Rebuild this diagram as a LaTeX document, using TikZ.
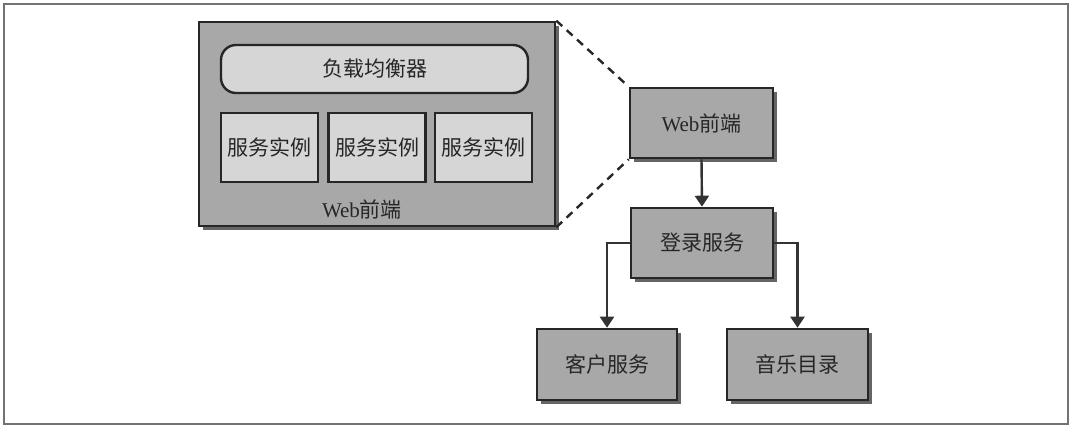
\documentclass[tikz,border=0pt]{standalone}
\usepackage{fontspec}
\setmainfont{Liberation Serif}
\newfontfamily\cjk{Noto Sans CJK SC}
\usetikzlibrary{arrows.meta,shadows}
\definecolor{boxgray}{HTML}{A8A8A8}
\definecolor{lightgray2}{HTML}{D6D6D6}
\definecolor{shadowgray}{HTML}{4A4A4A}
\tikzset{
  box/.style={draw=black!85, line width=2.6pt, fill=boxgray, inner sep=0pt,
    drop shadow={shadow xshift=4pt, shadow yshift=-4pt, fill=shadowgray, opacity=0.85}},
  inner/.style={draw=black!85, line width=2.4pt, fill=lightgray2, inner sep=0pt},
  lbl/.style={font=\fontsize{21}{24}\selectfont, text=black!85},
  conn/.style={draw=black!80, line width=2.4pt, -{Triangle[length=11pt,width=14pt]}},
  dashline/.style={draw=black!85, line width=2.4pt, dash pattern=on 8pt off 6pt}
}
\begin{document}
\begin{tikzpicture}[x=1pt,y=-1pt]
\useasboundingbox (0,0) rectangle (1073,427);
\draw[black!55, line width=1.5pt] (4,4) rectangle (1068,424);
% big web frontend box
\node[box, minimum width=356pt, minimum height=204pt] (big) at (377,124) {};
\node[inner, rounded corners=15pt, minimum width=307pt, minimum height=48pt] (lb) at (374.5,69) {};
\node[lbl] at (lb) {\cjk 负载均衡器};
\node[inner, minimum width=97pt, minimum height=69pt] (s1) at (269.5,147.5) {};
\node[inner, minimum width=97pt, minimum height=69pt] (s2) at (377,147.5) {};
\node[inner, minimum width=97pt, minimum height=69pt] (s3) at (483.5,147.5) {};
\node[lbl] at (s1) {\cjk 服务实例};
\node[lbl] at (s2) {\cjk 服务实例};
\node[lbl] at (s3) {\cjk 服务实例};
\node[lbl] (bigl) at (362,209) {Web{\cjk 前端}};
% right nodes
\node[box, minimum width=143pt, minimum height=70pt] (web) at (701.5,123) {};
\node[lbl] at (web) {Web{\cjk 前端}};
\node[box, minimum width=142pt, minimum height=70pt] (login) at (702,243) {};
\node[lbl] at (login) {\cjk 登录服务};
\node[box, minimum width=140pt, minimum height=71pt] (cust) at (607,364.5) {};
\node[lbl] at (cust) {\cjk 客户服务};
\node[box, minimum width=141pt, minimum height=71pt] (music) at (797.5,364.5) {};
\node[lbl] at (music) {\cjk 音乐目录};
% connectors
\draw[dashline] (big.north east) -- (web.north west);
\draw[dashline] (big.south east) -- (web.south west);
\draw[conn] (web.south) -- (login.north);
\draw[conn] (login.west) -| (cust.north);
\draw[conn] (login.east) -| (music.north);
\end{tikzpicture}
\end{document}
